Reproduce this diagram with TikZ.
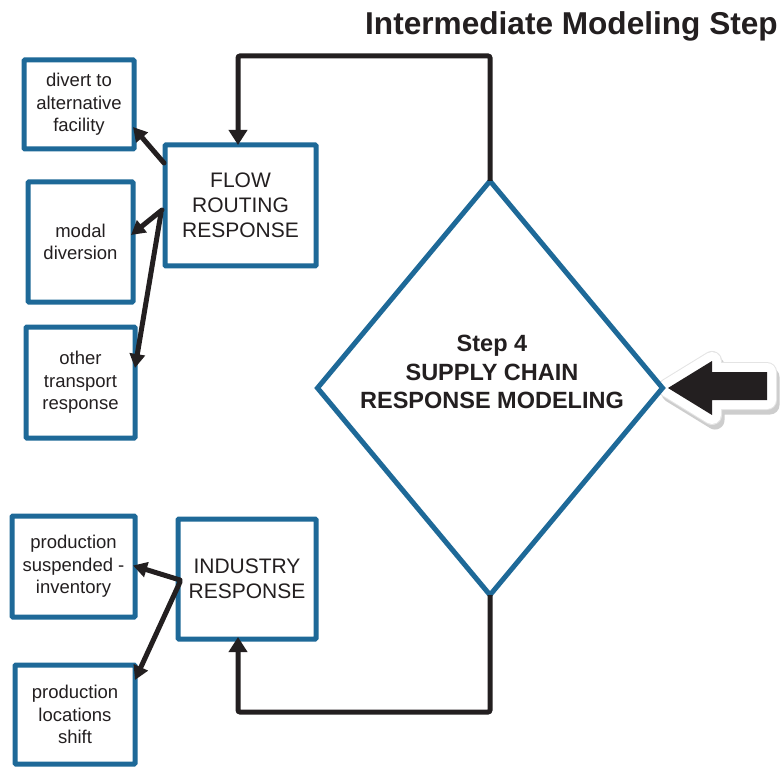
\documentclass[tikz,border=0pt]{standalone}
\usepackage{fontspec}
\setmainfont{Liberation Sans}
\usetikzlibrary{shapes.geometric,arrows.meta,calc}
\definecolor{frameblue}{RGB}{30,105,152}
\definecolor{ink}{RGB}{35,31,32}
\definecolor{dropgray}{RGB}{205,205,205}
\definecolor{rimedge}{RGB}{228,228,228}
\tikzset{
  sbox/.style={draw=frameblue, line width=5pt, fill=white, rectangle, rounded corners=1pt,
    inner sep=0pt, outer sep=0pt, align=center, text=ink,
    font=\fontsize{18.5}{22.5}\selectfont},
  bbox/.style={sbox, font=\fontsize{21}{25}\selectfont},
  link/.style={draw=ink, line width=5pt, line cap=round,
    -{Triangle[length=14pt,width=15pt]}},
  loopline/.style={draw=ink, line width=5pt, rounded corners=2pt,
    -{Triangle[length=15pt,width=18pt]}},
}
\begin{document}
\begin{tikzpicture}[x=1pt,y=-1pt]
  \useasboundingbox (0,0) rectangle (784,767);
  \clip (0,0) rectangle (784,767);
  \fill[white] (0,0) rectangle (784,767);

  % heading
  \node[anchor=base east, text=ink, inner sep=0pt,
        font=\fontsize{31.6}{37}\selectfont\bfseries] (title) at (778,35)
        {Intermediate Modeling Step};

  % input arrow on the right: drop shadow, white rim, black body
  \def\bigarrow{(668,388) -- (712,361) -- (712,372) -- (767,372) -- (767,400) -- (712,400) -- (712,415) -- cycle}
  \begin{scope}[shift={(3,5)}]
    \fill[dropgray] \bigarrow;
    \draw[dropgray, line width=19pt, line join=round] \bigarrow;
  \end{scope}
  \draw[rimedge, line width=20pt, line join=round] \bigarrow;
  \fill[white] \bigarrow;
  \draw[white, line width=18pt, line join=round] \bigarrow;
  \fill[ink] \bigarrow;

  % central decision
  \node[diamond, draw=frameblue, line width=5pt, fill=white, aspect=0.83,
        minimum width=345pt, minimum height=414pt, inner sep=0pt, outer sep=0pt]
        (dia) at (490,388) {};
  \node[align=center, text=ink, inner sep=0pt,
        font=\fontsize{23.5}{28.5}\selectfont\bfseries]
        (diatext) at (492,372) {Step 4\\SUPPLY CHAIN\\RESPONSE MODELING};

  % response boxes
  \node[bbox, minimum width=151pt, minimum height=121pt] (flow) at (240.5,205.5)
        {FLOW\\ROUTING\\RESPONSE};
  \node[bbox, minimum width=138pt, minimum height=120pt] (industry) at (247,579)
        {INDUSTRY\\RESPONSE};

  % option boxes
  \node[sbox, minimum width=110pt, minimum height=89pt] (divert) at (79,104.5)
        {divert to\\alternative\\facility};
  \node[sbox, minimum width=105pt, minimum height=120pt] (modal) at (80.5,242)
        {modal\\diversion};
  \node[sbox, minimum width=109pt, minimum height=111pt] (other) at (80.5,382.5)
        {other\\transport\\response};
  \node[sbox, minimum width=123pt, minimum height=101pt] (susp) at (73.5,566.5)
        {production\\suspended -\\inventory};
  \node[sbox, minimum width=120pt, minimum height=99pt] (loc) at (75,714.5)
        {production\\locations\\shift};

  % feedback loops from the decision
  \draw[loopline] (dia.north) -- ++(0,-125) -| ($(flow.north west)+(73,0)$);
  \draw[loopline] (dia.south) -- ++(0,117) -| ($(industry.south west)+(60,-2)$);

  % flow routing options
  \draw[link] ($(flow.north west)+(-1,18)$) -- ($(divert.south east)+(-1,-22)$);
  \draw[link] ($(flow.north west)+(-3,65)$) -- ($(modal.east)+(-2,-7)$);
  \draw[link] ($(flow.north west)+(-4,68)$) -- ($(other.north east)+(0,41)$);

  % industry options
  \draw[link] ($(industry.north west)+(2,61)$) -- ($(susp.east)+(-2,-1)$);
  \draw[link] ($(industry.north west)+(2,63)$) -- ($(loc.north east)+(0,15)$);
\end{tikzpicture}
\end{document}
